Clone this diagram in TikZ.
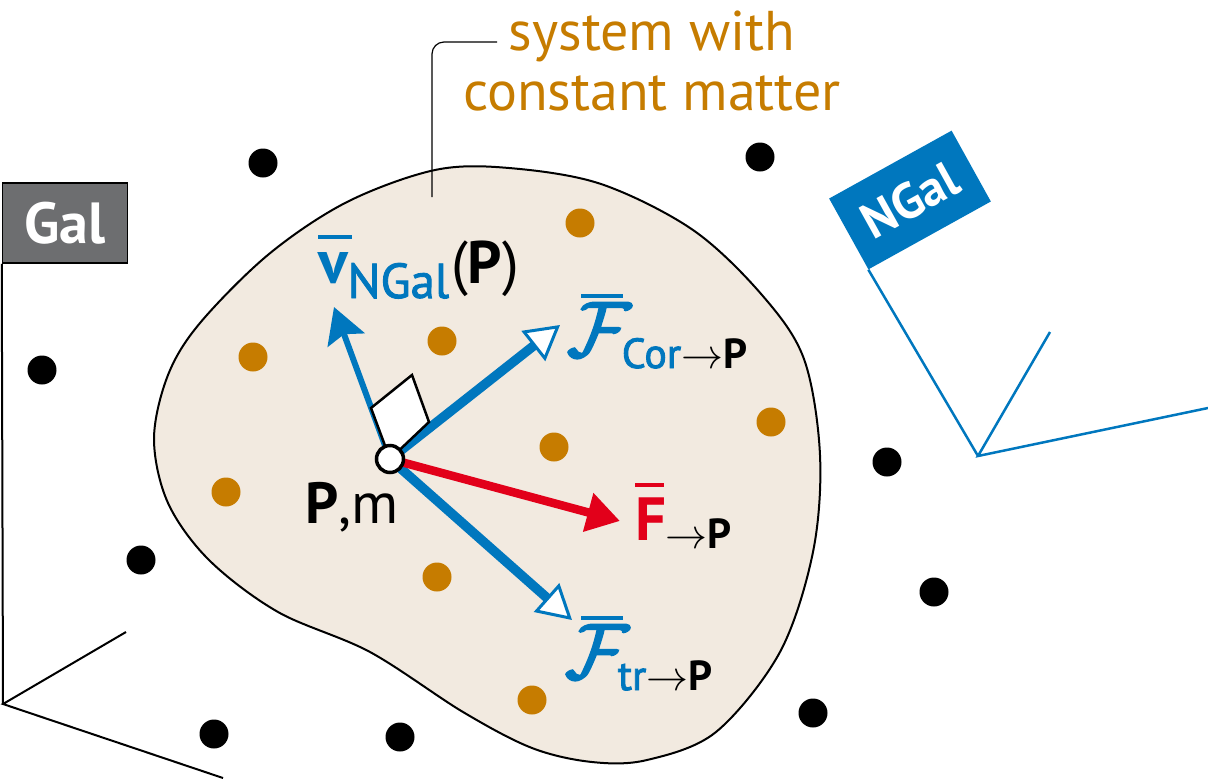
\documentclass[tikz,border=0pt]{standalone}
\usepackage{fix-cm}
\usepackage{fontspec}
\setmainfont{PT Sans}
\usetikzlibrary{arrows.meta}
\definecolor{nblue}{RGB}{0,119,190}
\definecolor{fred}{RGB}{226,0,26}
\definecolor{orng}{RGB}{198,124,0}
\definecolor{blobfill}{RGB}{242,234,224}
\definecolor{galgray}{RGB}{109,110,112}
\newcommand\fs[1]{\fontsize{#1}{#1}\selectfont}
\newcommand\topbar[4]{\rlap{\kern#2\raisebox{#1}{\rule{#3}{4pt}}}{#4}}
\newcommand\heavycal[1]{{\special{pdf:literal direct 2 Tr 2.2 w}$\mathcal{#1}$\special{pdf:literal direct 0 Tr}}}
\newcommand\semib[1]{{\special{pdf:literal direct 2 Tr 0.9 w}#1\special{pdf:literal direct 0 Tr}}}
\tikzset{
  blackdot/.style={circle, fill=black, minimum size=29pt, inner sep=0},
  orangedot/.style={circle, fill=orng, minimum size=29pt, inner sep=0},
  lbl/.style={anchor=base west, inner sep=0, outer sep=0},
  openhead/.style={-{Triangle[fill=white, line width=3pt, length=34pt, width=38pt]}}
}
\begin{document}
\begin{tikzpicture}[x=1pt, y=-1pt]
\useasboundingbox (0,0) rectangle (1208,780);
% system blob
\draw[line width=2pt, fill=blobfill] plot[smooth cycle, tension=0.55] coordinates {
 (509,168) (601,184) (693,230) (762,295) (804,359) (820,455) (813,552) (780,652)
 (716,732) (647,760) (592,762) (532,748) (463,712) (370,652) (278,612) (209,560)
 (168,503) (154,439) (168,375) (200,323) (269,254) (347,202) (435,170)};
% leader and title
\coordinate (lead1) at (432,197);
\coordinate (lead2) at (497,42);
\draw[line width=1.2pt, rounded corners=12pt] (lead1) |- (lead2);
\node[anchor=base, inner sep=0, text=orng, font=\fs{56}] (title1) at (652,50) {system with};
\node[anchor=base, inner sep=0, text=orng, font=\fs{56}] (title2) at (652,110) {constant matter};
% black dots
\foreach \x/\y [count=\i] in {263/163, 760/157, 42/370, 887/462, 141/560, 934/592, 214/734, 400/737, 813/713}
  \node[blackdot] (b\i) at (\x,\y) {};
% orange dots
\foreach \x/\y [count=\i] in {580/223, 442/341, 253/357, 771/422, 554/447, 226/492, 437/577, 532/700}
  \node[orangedot] (o\i) at (\x,\y) {};
% Gal frame
\node[draw=black, line width=1.5pt, fill=galgray, minimum width=125pt, minimum height=80pt, inner sep=0,
      text=white, font=\fs{58}\bfseries] (gal) at (65,223) {Gal};
\coordinate (galO) at (3,704);
\coordinate (galA) at (126,632);
\coordinate (galB) at (223,778);
\draw[line width=2pt] (gal.south west) -- (galO);
\draw[line width=2pt] (galA) -- (galO) -- (galB);
% NGal frame
\node[fill=nblue, rotate=29, minimum width=140pt, minimum height=81pt, inner sep=0,
      text=white, font=\fs{50}\bfseries] (ngal) at (910,200) {NGal};
\coordinate (ngO) at (978,456);
\coordinate (ngA) at (1050,332);
\coordinate (ngB) at (1208,408);
\draw[nblue, line width=2.5pt] (ngal.south west) -- (ngO);
\draw[nblue, line width=2.5pt] (ngA) -- (ngO) -- (ngB);
% vectors
\coordinate (Pc) at (390,459);
\coordinate (vtip) at (334,307);
\coordinate (cortip) at (560,325);
\coordinate (trtip) at (572,620);
\coordinate (ftip) at (620,521);
\draw[nblue, line width=6pt, -{Stealth[length=35pt, width=39pt, inset=6pt]}] (Pc) -- (vtip);
\draw[nblue, line width=9.5pt, openhead] (Pc) -- (cortip);
\draw[nblue, line width=9.5pt, openhead] (Pc) -- (trtip);
\draw[fred, line width=8.5pt, -{Triangle[length=33pt, width=38pt]}] (Pc) -- (ftip);
% right angle mark
\coordinate (q1) at (371,408);
\coordinate (q2) at (412,375);
\coordinate (q3) at (429,422);
\draw[line width=2.5pt, fill=white, line join=miter] (Pc) -- (q1) -- (q2) -- (q3) -- cycle;
% point P
\node[circle, draw=black, line width=3.5pt, fill=white, minimum size=27pt, inner sep=0] (P) at (Pc) {};
% labels
\node[lbl, text=nblue] (vlab) at (318,283)
  {\topbar{44pt}{0pt}{34pt}{\fs{62}\bfseries v}\raisebox{-15pt}{\fs{49}\semib{NGal}}\kern2pt\color{black}\fs{60}(\textbf{P})};
\node[lbl, text=nblue] (corlab) at (567,356)
  {\topbar{58pt}{14pt}{42pt}{\fs{78}\heavycal{F}}\kern-9pt\raisebox{-12pt}{\fs{42}\semib{Cor}\color{black}$\rightarrow$\textbf{P}}};
\node[lbl, text=fred] (flab) at (635,540)
  {\topbar{53pt}{0pt}{29pt}{\fs{61}\bfseries F}\raisebox{-8pt}{\fs{42}\color{black}$\rightarrow$\textbf{P}}};
\node[lbl, text=nblue] (trlab) at (565,678)
  {\topbar{58pt}{16pt}{42pt}{\fs{78}\heavycal{F}}\kern-11pt\raisebox{-12pt}{\fs{42}\semib{tr}\color{black}$\rightarrow$\textbf{P}}};
\node[lbl] (pmlab) at (305,523) {\fs{58}\textbf{P},m};
\end{tikzpicture}
\end{document}
